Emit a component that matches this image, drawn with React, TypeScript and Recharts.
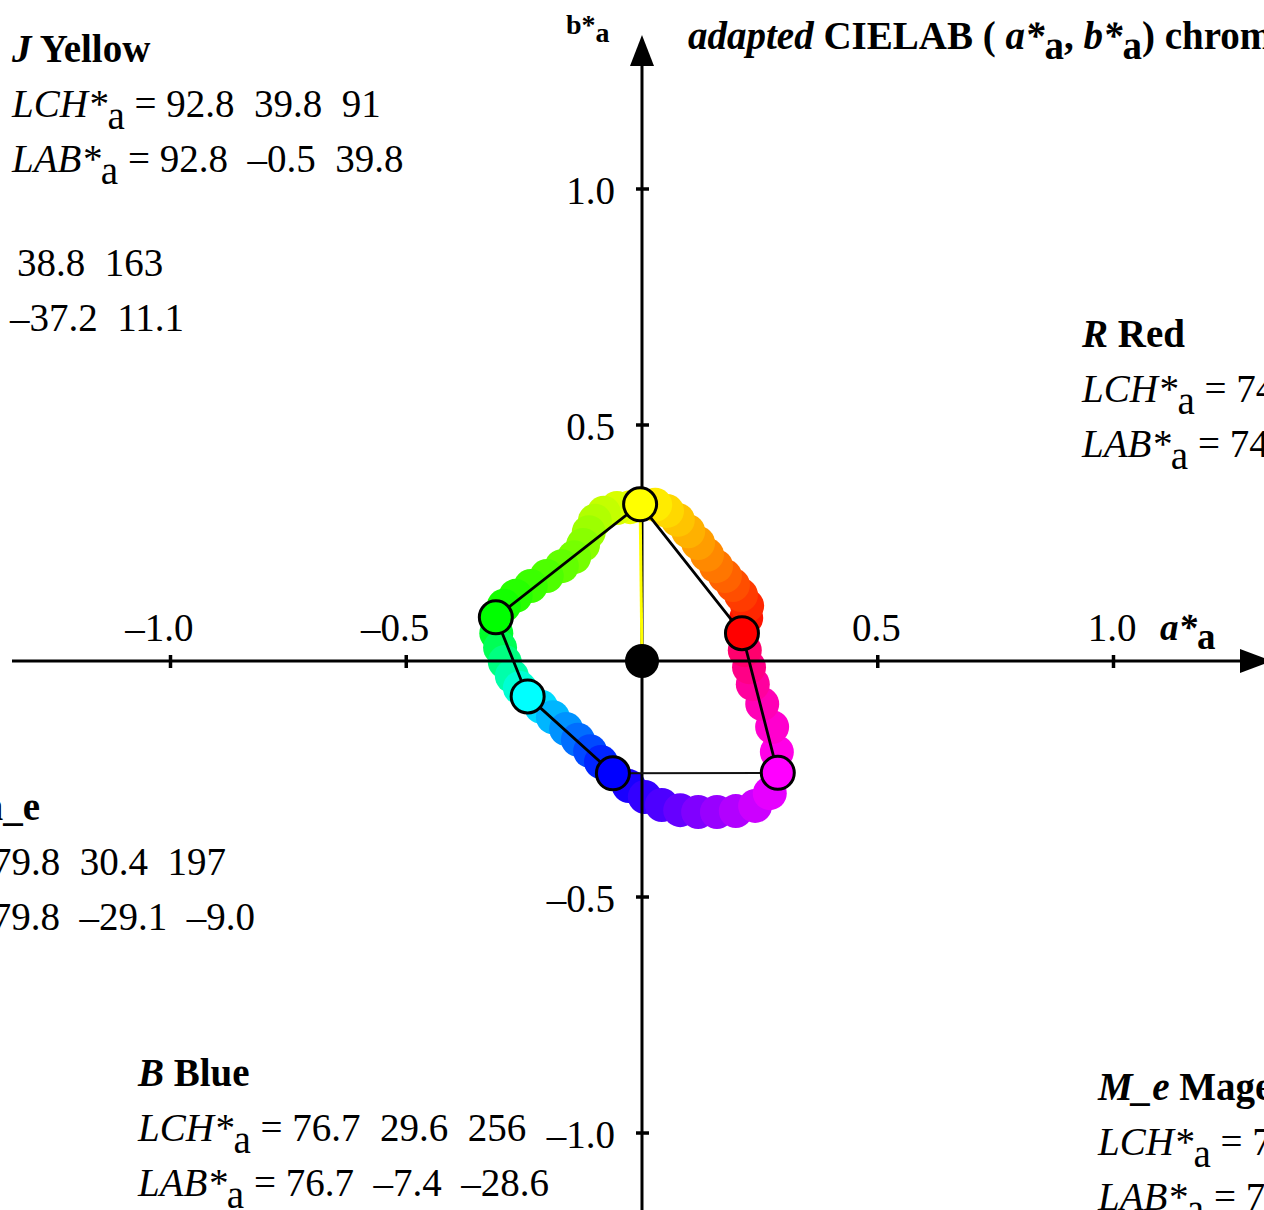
import React from 'react';
import { ScatterChart, Scatter, XAxis, YAxis } from 'recharts';

const SERIF = '"Liberation Serif", "Times New Roman", serif';
const W = 1264;
const H = 1210;

// visible window of the plot, in axis units
const X_DOMAIN: [number, number] = [-1.3616, 1.3192];
const Y_DOMAIN: [number, number] = [-1.1631, 1.4004];

const TICKS = [-1.0, -0.5, 0.5, 1.0];
const TICK_LABELS = ['–1.0', '–0.5', '0.5', '1.0'];

// six corner colours (a*a, b*a)
const CORNERS = ['R', 'J', 'G', 'C_e', 'B', 'M_e'];
const CORNER_A = [0.212, -0.004, -0.31, -0.2425, -0.0617, 0.288];
const CORNER_B = [0.059, 0.332, 0.0925, -0.075, -0.238, -0.237];
const CORNER_FILL = ['#ff0000', '#ffff00', '#00ff00', '#00ffff', '#0000ff', '#ff00ff'];

// hue circle between the corners
const RING_R_J = [
  [0.221, 0.091], [0.223, 0.117], [0.21, 0.14], [0.193, 0.161], [0.176, 0.18], [0.157, 0.201],
  [0.138, 0.225], [0.119, 0.25], [0.098, 0.275], [0.076, 0.299], [0.053, 0.318], [0.028, 0.331],
];
const RING_J_G = [
  [-0.025, 0.326], [-0.053, 0.324], [-0.081, 0.314], [-0.1, 0.297], [-0.113, 0.273], [-0.125, 0.246],
  [-0.144, 0.22], [-0.17, 0.201], [-0.202, 0.18], [-0.236, 0.159], [-0.268, 0.138], [-0.293, 0.117],
];
const RING_G_C = [
  [-0.309, 0.059], [-0.301, 0.028], [-0.291, -0.002], [-0.276, -0.032], [-0.259, -0.057],
];
const RING_C_B = [
  [-0.214, -0.097], [-0.189, -0.119], [-0.161, -0.144], [-0.136, -0.167], [-0.11, -0.191], [-0.087, -0.214],
];
const RING_B_M = [
  [-0.028, -0.265], [0.006, -0.288], [0.042, -0.305], [0.081, -0.316], [0.119, -0.32],
  [0.159, -0.32], [0.199, -0.318], [0.24, -0.307], [0.271, -0.28],
];
const RING_M_R = [
  [0.286, -0.193], [0.276, -0.14], [0.255, -0.091], [0.235, -0.049], [0.227, -0.013], [0.218, 0.023],
];

// polygon edges, by corner name
const EDGES_THICK = [['J', 'R', 'M_e'], ['J', 'G', 'C_e', 'B']];
const EDGE_THIN = ['B', 'M_e'];

type Span = [string, string?];

const TITLE: Span[] = [
  ['adapted', 'bi'], [' CIELAB ( ', 'b'], ['a*', 'bi'], ['a', 'subb'], [', ', 'b'],
  ['b*', 'bi'], ['a', 'subb'], [') chroma', 'b'],
];
const Y_NAME: Span[] = [['b*', 'b'], ['a', 'subb']];
const X_NAME: Span[] = [['a*', 'bi'], ['a', 'subb']];

const YELLOW_TEXT: Span[][] = [
  [['J', 'bi'], [' Yellow', 'b']],
  [['LCH*', 'i'], ['a', 'sub'], [' = 92.8  39.8  91']],
  [['LAB*', 'i'], ['a', 'sub'], [' = 92.8  –0.5  39.8']],
];
const GREEN_TEXT: Span[][] = [[['38.8  163']], [['–37.2  11.1']]];
const CYAN_TEXT: Span[][] = [
  [['C_e', 'bi'], [' Cyan_e', 'b']],
  [['LCH*', 'i'], ['a', 'sub'], [' = 79.8  30.4  197']],
  [['LAB*', 'i'], ['a', 'sub'], [' = 79.8  –29.1  –9.0']],
];
const BLUE_TEXT: Span[][] = [
  [['B', 'bi'], [' Blue', 'b']],
  [['LCH*', 'i'], ['a', 'sub'], [' = 76.7  29.6  256']],
  [['LAB*', 'i'], ['a', 'sub'], [' = 76.7  –7.4  –28.6']],
];
const RED_TEXT: Span[][] = [
  [['R', 'bi'], [' Red', 'b']],
  [['LCH*', 'i'], ['a', 'sub'], [' = 74']],
  [['LAB*', 'i'], ['a', 'sub'], [' = 74']],
];
const MAGENTA_TEXT: Span[][] = [
  [['M_e', 'bi'], [' Magenta', 'b']],
  [['LCH*', 'i'], ['a', 'sub'], [' = 7']],
  [['LAB*', 'i'], ['a', 'sub'], [' = 7']],
];

// ---- layout helpers ----
const FONT = 39;
const pxA = (x: number) => X_DOMAIN[0] + (x / W) * (X_DOMAIN[1] - X_DOMAIN[0]);
const pxB = (y: number) => Y_DOMAIN[1] - (y / H) * (Y_DOMAIN[1] - Y_DOMAIN[0]);

const corner = (name: string) => {
  const i = CORNERS.indexOf(name);
  return { a: CORNER_A[i], b: CORNER_B[i], fill: CORNER_FILL[i] };
};

const hue = (h: number) => `hsl(${h}, 100%, 50%)`;
const SEGMENTS: [number[][], number, number][] = [
  [RING_R_J, 0, 60], [RING_J_G, 60, 120], [RING_G_C, 120, 180],
  [RING_C_B, 180, 240], [RING_B_M, 240, 300], [RING_M_R, 300, 340],
];
const ringData = SEGMENTS.flatMap(([pts, from, to]) =>
  pts.map(([a, b], i) => ({ a, b, fill: hue(from + ((to - from) * (i + 1)) / (pts.length + 1)) })),
);

const markerData = CORNERS.map(corner);
const origin = [{ a: 0, b: 0 }];

const Line = ({ spans, x, y, size = FONT, anchor = 'start', drop = 12 }: any) => {
  let low = false;
  return (
    <text x={x} y={y} fontFamily={SERIF} fontSize={size} textAnchor={anchor} fill="#000" style={{ whiteSpace: 'pre' }}>
      {spans.map(([t, k = 'r']: Span, i: number) => {
        const sub = k === 'sub' || k === 'subb';
        let dy = 0;
        if (sub && !low) { dy = drop; low = true; }
        else if (!sub && low) { dy = -drop; low = false; }
        return (
          <tspan key={i} dy={dy || undefined}
            fontWeight={k === 'b' || k === 'bi' || k === 'subb' ? 'bold' : 'normal'}
            fontStyle={k === 'i' || k === 'bi' ? 'italic' : 'normal'}>
            {t}
          </tspan>
        );
      })}
    </text>
  );
};

// text blocks placed in pixel layout, converted to chart units
const BLOCKS = [
  { x: 12, y: 62, anchor: 'start', lines: YELLOW_TEXT, dx: [0, 0, 0] },
  { x: 17, y: 276, anchor: 'start', lines: GREEN_TEXT, dx: [0, -7] },
  { x: 40, y: 820, anchor: 'end', lines: CYAN_TEXT, dx: [0, 186, 215] },
  { x: 138, y: 1086, anchor: 'start', lines: BLUE_TEXT, dx: [0, 0, 0] },
  { x: 1082, y: 347, anchor: 'start', lines: RED_TEXT, dx: [0, 0, 0] },
  { x: 1098, y: 1100, anchor: 'start', lines: MAGENTA_TEXT, dx: [0, 0, 0] },
].map((blk) => ({ ...blk, a: pxA(blk.x), b: pxB(blk.y) }));

const LABELS = [
  { x: 688, y: 49, spans: TITLE, size: FONT, drop: 10 },
  { x: 566, y: 34, spans: Y_NAME, size: 28, drop: 8 },
  { x: 1160, y: 640, spans: X_NAME, size: 37, drop: 9 },
].map((l) => ({ ...l, a: pxA(l.x), b: pxB(l.y) }));

const Nothing = () => <g />;

const RingDot = (p: any) => <circle cx={p.cx} cy={p.cy} r={17} fill={p.payload.fill} />;
const Marker = (p: any) => (
  <circle cx={p.cx} cy={p.cy} r={16.5} fill={p.payload.fill} stroke="#000" strokeWidth={3} />
);
const OriginDot = (p: any) => <circle cx={p.cx} cy={p.cy} r={17} fill="#000" />;

const XTick = (p: any) => (
  <g>
    <line x1={p.cx} x2={p.cx} y1={p.cy - 6} y2={p.cy + 7} stroke="#000" strokeWidth={3.5} />
    <Line spans={[[p.payload.label]]} x={p.cx + 23} y={p.cy - 20} anchor="end" />
  </g>
);
const YTick = (p: any) => (
  <g>
    <line x1={p.cx - 6} x2={p.cx + 7} y1={p.cy} y2={p.cy} stroke="#000" strokeWidth={3.5} />
    <Line spans={[[p.payload.label]]} x={p.cx - 27} y={p.cy + 15} anchor="end" />
  </g>
);
const XArrow = (p: any) => (
  <polygon points={`${p.cx},${p.cy - 12} ${p.cx + 32},${p.cy} ${p.cx},${p.cy + 12}`} fill="#000" />
);
const YArrow = (p: any) => (
  <polygon points={`${p.cx - 12},${p.cy} ${p.cx},${p.cy - 31} ${p.cx + 12},${p.cy}`} fill="#000" />
);
const Block = (p: any) => {
  const { lines, anchor, dx } = p.payload;
  return (
    <g>
      {lines.map((spans: Span[], i: number) => (
        <Line key={i} spans={spans} x={p.cx + dx[i]} y={p.cy + i * 55} anchor={anchor} />
      ))}
    </g>
  );
};
const Label = (p: any) => (
  <Line spans={p.payload.spans} x={p.cx} y={p.cy} size={p.payload.size} drop={p.payload.drop} />
);

const xAxisLine = [{ a: pxA(12), b: 0 }, { a: pxA(1240), b: 0 }];
const yAxisLine = [{ a: 0, b: Y_DOMAIN[0] }, { a: 0, b: pxB(66) }];
const xTicks = TICKS.map((t, i) => ({ a: t, b: 0, label: TICK_LABELS[i] }));
const yTicks = TICKS.map((t, i) => ({ a: 0, b: t, label: TICK_LABELS[i] }));

export default function App() {
  const y = corner('J');
  return (
    <div style={{ position: 'absolute', left: 0, top: 0, background: '#fff' }}>
      <ScatterChart width={W} height={H} margin={{ top: 0, right: 0, bottom: 0, left: 0 }}>
        <XAxis type="number" dataKey="a" domain={X_DOMAIN} allowDataOverflow hide />
        <YAxis type="number" dataKey="b" domain={Y_DOMAIN} allowDataOverflow hide />

        <Scatter data={ringData} shape={RingDot} isAnimationActive={false} />

        <Scatter data={xAxisLine} line={{ stroke: '#000', strokeWidth: 3 }} shape={Nothing} isAnimationActive={false} />
        <Scatter data={yAxisLine} line={{ stroke: '#000', strokeWidth: 3 }} shape={Nothing} isAnimationActive={false} />
        <Scatter data={[xAxisLine[1]]} shape={XArrow} isAnimationActive={false} />
        <Scatter data={[yAxisLine[1]]} shape={YArrow} isAnimationActive={false} />
        <Scatter data={xTicks} shape={XTick} isAnimationActive={false} />
        <Scatter data={yTicks} shape={YTick} isAnimationActive={false} />

        <Scatter data={[y, { a: 0, b: 0 }]} line={{ stroke: '#ffff00', strokeWidth: 3 }} shape={Nothing} isAnimationActive={false} />
        {EDGES_THICK.map((names, i) => (
          <Scatter key={i} data={names.map(corner)} line={{ stroke: '#000', strokeWidth: 2.8 }} shape={Nothing} isAnimationActive={false} />
        ))}
        <Scatter data={EDGE_THIN.map(corner)} line={{ stroke: '#111', strokeWidth: 2 }} shape={Nothing} isAnimationActive={false} />

        <Scatter data={markerData} shape={Marker} isAnimationActive={false} />
        <Scatter data={origin} shape={OriginDot} isAnimationActive={false} />

        <Scatter data={BLOCKS} shape={Block} isAnimationActive={false} />
        <Scatter data={LABELS} shape={Label} isAnimationActive={false} />
      </ScatterChart>
    </div>
  );
}
